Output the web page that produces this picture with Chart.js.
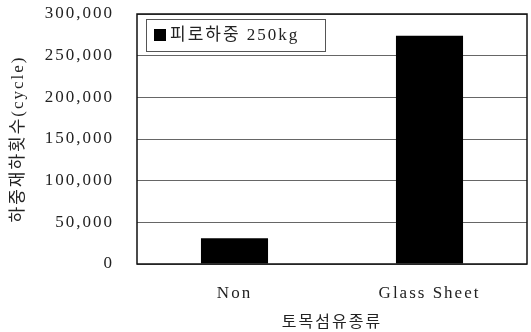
<!DOCTYPE html>
<html>
<head>
  <meta charset="utf-8">
  <script src="https://cdn.jsdelivr.net/npm/chart.js"></script>
  <style>
    html, body { margin: 0; padding: 0; background: #fff; }
    #wrap { width: 531px; height: 332px; }
  </style>
</head>
<body>
  <div id="wrap"><canvas id="fatigueChart" width="531" height="332"></canvas></div>
  <script>
// data
var categories = ['Non', 'Glass Sheet'];
var cycles = [31000, 274000];
var seriesLabel = '피로하중 250kg';
var yTicks = [0, 50000, 100000, 150000, 200000, 250000, 300000];

var FONT = "'Liberation Serif', 'Noto Sans CJK KR', serif";
var INK = '#222';

// wide text like the scanned original
function spaced(chart) {
  chart.ctx.letterSpacing = '2px';
}

var framePlugin = {
  id: 'frame',
  beforeUpdate: spaced,
  beforeLayout: spaced,
  beforeDraw: spaced,
  afterDatasetsDraw: function(chart) {
    var ctx = chart.ctx, a = chart.chartArea;
    ctx.save();
    ctx.strokeStyle = '#111';
    ctx.lineWidth = 1.5;
    ctx.strokeRect(a.left, a.top, a.right - a.left, a.bottom - a.top);
    ctx.restore();
  },
  afterDraw: function(chart) {
    // legend box sits inside the plot, top left
    var ctx = chart.ctx, a = chart.chartArea;
    var x = a.left + 9, y = a.top + 5, w = 179, h = 32;
    ctx.save();
    ctx.letterSpacing = '2px';
    ctx.fillStyle = '#fff';
    ctx.fillRect(x, y, w, h);
    ctx.strokeStyle = '#555';
    ctx.lineWidth = 1;
    ctx.strokeRect(x + 0.5, y + 0.5, w, h);
    ctx.fillStyle = '#000';
    ctx.fillRect(x + 8, y + 10, 12, 12);
    ctx.fillStyle = INK;
    ctx.font = '17px ' + FONT;
    ctx.textBaseline = 'middle';
    ctx.fillText(chart.data.datasets[0].label, x + 24, y + h / 2 + 1);
    ctx.restore();
  }
};

new Chart(document.getElementById('fatigueChart'), {
  type: 'bar',
  data: {
    labels: categories,
    datasets: [{
      label: seriesLabel,
      data: cycles,
      backgroundColor: '#000',
      borderWidth: 0,
      barPercentage: 0.344,
      categoryPercentage: 1
    }]
  },
  options: {
    responsive: false,
    animation: false,
    layout: { padding: { left: 0, right: 4, top: 14, bottom: 0 } },
    plugins: {
      legend: { display: false },
      tooltip: { enabled: false }
    },
    scales: {
      x: {
        grid: { display: false, drawTicks: false },
        border: { display: false },
        ticks: { color: INK, font: { family: FONT, size: 17 }, padding: 19 },
        title: {
          display: true,
          text: '토목섬유종류',
          color: INK,
          font: { family: FONT, size: 16 },
          padding: { top: 6, bottom: 0 }
        },
        afterFit: function(s) { s.height = 68; }
      },
      y: {
        min: 0,
        max: 300000,
        afterBuildTicks: function(s) { s.ticks = yTicks.map(function(v) { return { value: v }; }); },
        grid: { color: '#666', lineWidth: 1, drawTicks: false },
        border: { display: false },
        ticks: {
          color: INK,
          font: { family: FONT, size: 17 },
          padding: 23,
          callback: function(v) { return v.toLocaleString('en-US'); }
        },
        title: {
          display: true,
          text: '하중재하횟수(cycle)',
          color: INK,
          font: { family: FONT, size: 17 },
          padding: { top: 8, bottom: 0 }
        },
        afterFit: function(s) {
          s.width = 137;
          s.paddingTop = 0;
          s.paddingBottom = 0;
        }
      }
    }
  },
  plugins: [framePlugin]
});
  </script>
</body>
</html>
